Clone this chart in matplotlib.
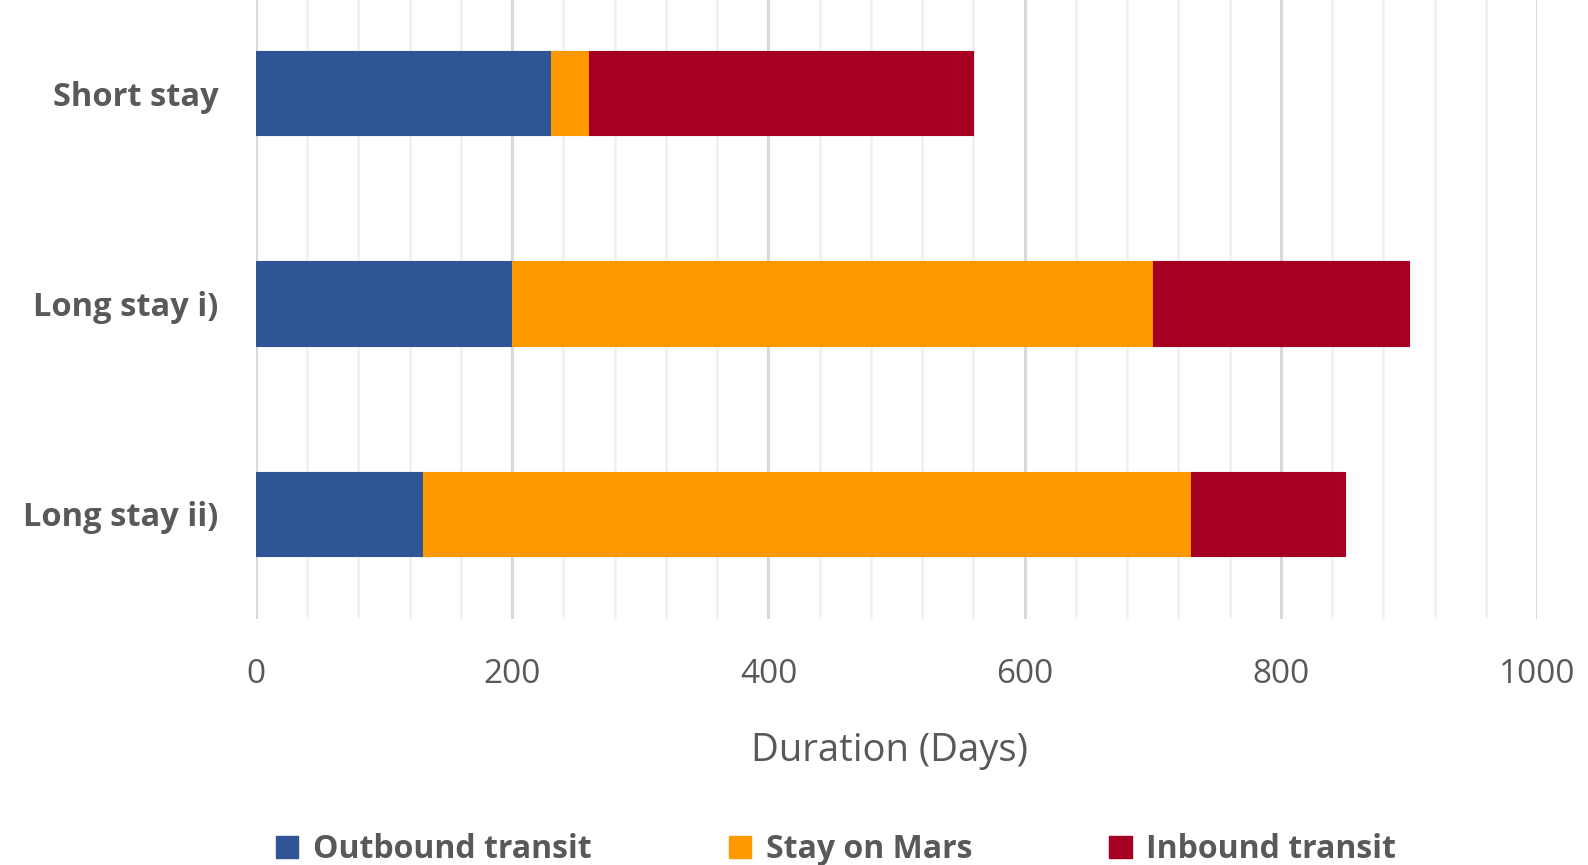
import matplotlib
matplotlib.use("Agg")
import matplotlib.pyplot as plt
from matplotlib.patches import Patch
import numpy as np

# Mission profiles (days)
categories = ["Short stay", "Long stay i)", "Long stay ii)"]
outbound = [230, 200, 130]
stay = [30, 500, 600]
inbound = [300, 200, 120]
series_names = ["Outbound transit", "Stay on Mars", "Inbound transit"]
colors = ["#2F5597", "#FF9900", "#A50021"]
x_ticks = [0, 200, 400, 600, 800, 1000]

plt.rcParams["font.family"] = ["Open Sans", "DejaVu Sans"]
text_grey = "#595959"

fig = plt.figure(figsize=(15.88, 8.65), dpi=100)
ax = fig.add_axes([0.1612, 0.2844, 0.8068, 0.7295])

y = np.arange(len(categories))
left = np.zeros(len(categories))
for vals, col, name in zip([outbound, stay, inbound], colors, series_names):
    ax.barh(y, vals, left=left, height=0.4, color=col, label=name,
            edgecolor=col, linewidth=0.8, zorder=3)
    left = left + np.array(vals)

ax.set_ylim(len(categories) - 0.5, -0.5)
ax.set_xlim(0, 1000)
ax.set_yticks(y)
ax.set_yticklabels(categories, fontsize=23.5, fontweight="bold", color=text_grey)
ax.set_xticks(x_ticks)
ax.set_xticklabels([str(v) for v in x_ticks], fontsize=24, color=text_grey)
ax.set_xticks(np.arange(0, 1001, 40), minor=True)
ax.tick_params(axis="both", which="both", length=0)
ax.tick_params(axis="x", pad=28)
ax.tick_params(axis="y", pad=27)

ax.grid(axis="x", which="major", color="#d9d9d9", linewidth=2.2, zorder=0)
ax.grid(axis="x", which="minor", color="#f0f0f0", linewidth=1.8, zorder=0)
for s in ax.spines.values():
    s.set_visible(False)

ax.set_xlabel("Duration (Days)", fontsize=27.5, color=text_grey)
ax.xaxis.set_label_coords(0.4945, -0.2092)
ax.xaxis.label.set_verticalalignment("center")

handles = [Patch(facecolor=c, edgecolor=c) for c in colors]
fig.legend(handles, series_names, loc="center", bbox_to_anchor=(0.5265, 0.0175),
           ncol=3, frameon=False, prop={"size": 23, "weight": "bold"},
           labelcolor=text_grey, handlelength=0.7, handleheight=0.7,
           handletextpad=0.45, columnspacing=4.3)

fig.savefig("out.png", dpi=100)
